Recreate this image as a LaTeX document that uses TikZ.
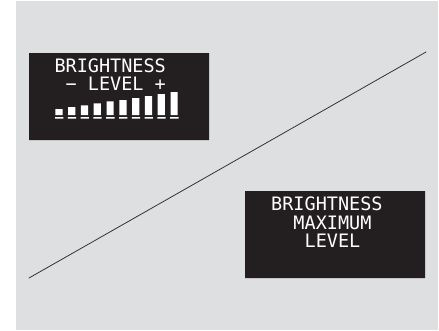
\documentclass[tikz,border=0pt]{standalone}
\usepackage{fontspec}
\newfontfamily\lcdfont{DejaVu Sans Mono}
\definecolor{panel}{HTML}{DEDFE1}
\definecolor{screen}{HTML}{231F20}
\tikzset{lcd/.style={anchor=base west, text=white, inner sep=0pt}}
\begin{document}
\begin{tikzpicture}[x=1pt,y=-1pt, font=\lcdfont\fontsize{18.5}{20}\selectfont, line join=round, line cap=round]
	\useasboundingbox (0,0) rectangle (439,330);
	\fill[panel] (16,1) rectangle (438,330);
	\path 
	(29,53) coordinate (L_1) 
	(209,140) coordinate (L_2) 
	(245,191) coordinate (R_1) 
	(425,278) coordinate (R_2) 
	(29,278) coordinate (A) 
	(426,52) coordinate (B)
	;
	\fill[screen] (L_1) rectangle (L_2) (R_1) rectangle (R_2);
	\draw[line width=0.8pt, black!80] (A)--(B);
	%Màn hình trái
	\node[lcd] (bright_L) at (54.3,72) {BRIGHTNESS};
	\node[lcd] (level_L) at (54.3,90.5) {~\symbol{"2212}~LEVEL~+};
	\foreach \i/\t in {0/109, 1/107, 2/105.3, 3/103.3, 4/101.3, 5/100, 6/98, 7/96, 8/94, 9/92}
	\fill[white] ({55.3+12.8*\i},115) rectangle ({62.5+12.8*\i},\t)
	({55+12.8*\i},117) rectangle ({63.3+12.8*\i},118.7);
	%Màn hình phải
	\node[lcd] (bright_R) at (271,210) {BRIGHTNESS};
	\node[lcd] (max_R) at (271,229) {~~MAXIMUM};
	\node[lcd] (level_R) at (271,247.5) {~~~LEVEL};
\end{tikzpicture}
\end{document}
